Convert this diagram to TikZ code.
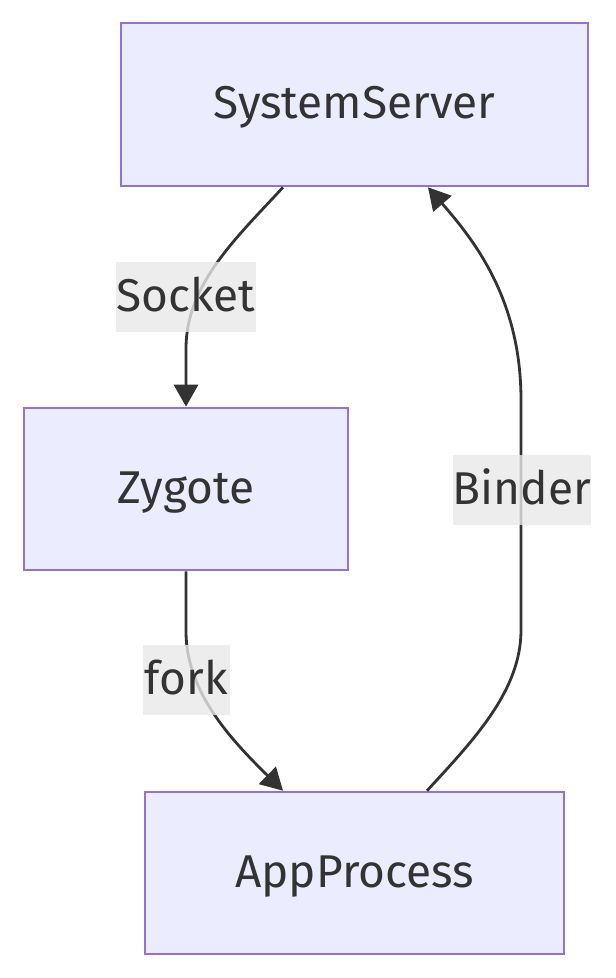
\documentclass[tikz,border=0pt]{standalone}
\usepackage{fontspec}
\setmainfont{Fira Sans}
\usetikzlibrary{arrows.meta}
\definecolor{nodefill}{HTML}{ECECFF}
\definecolor{nodeline}{HTML}{9370DB}
\definecolor{ink}{HTML}{333333}
\definecolor{lblbg}{HTML}{E8E8E8}
\begin{document}
\begin{tikzpicture}[x=1pt,y=-1pt,
  box/.style={draw=nodeline,fill=nodefill,line width=2.6pt,inner sep=0pt,
    text=ink,font=\fontsize{46}{52}\selectfont,text height=28pt,text depth=0pt},
  lbl/.style={fill=lblbg,fill opacity=0.8,text opacity=1,text=ink,inner sep=0pt,
    font=\fontsize{46}{52}\selectfont,text height=28pt,text depth=0pt},
  conn/.style={draw=ink,line width=2.8pt,-{Triangle[length=22pt,width=24pt]}}]
\useasboundingbox (0,0) rectangle (616,978);
\node[box,minimum width=467pt,minimum height=163pt] (ss) at (354.5,104.5) {SystemServer};
\node[box,minimum width=324pt,minimum height=162pt] (zy) at (186,489) {Zygote};
\node[box,minimum width=419pt,minimum height=162pt] (ap) at (354.5,873) {AppProcess};
\coordinate (s1) at ([xshift=-71.5pt]ss.south);
\coordinate (s2) at ([xshift=73.5pt]ss.south);
\coordinate (a1) at ([xshift=-71.5pt]ap.north);
\coordinate (a2) at ([xshift=72.5pt]ap.north);
\draw[conn] (s1) .. controls +(-46,50) and +(0,-65) .. ([yshift=58pt]zy.north) -- (zy.north);
\draw[conn] (zy.south) -- ++(0,60) .. controls +(0,60) and +(-53,-52) .. (a1);
\draw[conn] (a2) .. controls +(48,-52) and +(0,60) .. (521,630) -- (521,400) .. controls +(0,-100) and +(47,54) .. (s2);
\node[lbl,minimum width=140pt,minimum height=70pt] (l1) at (186,297) {Socket};
\node[lbl,minimum width=138pt,minimum height=70pt] (l2) at (522,490) {Binder};
\node[lbl,minimum width=87pt,minimum height=70pt] (l3) at (186.5,680) {fork};
\end{tikzpicture}
\end{document}
